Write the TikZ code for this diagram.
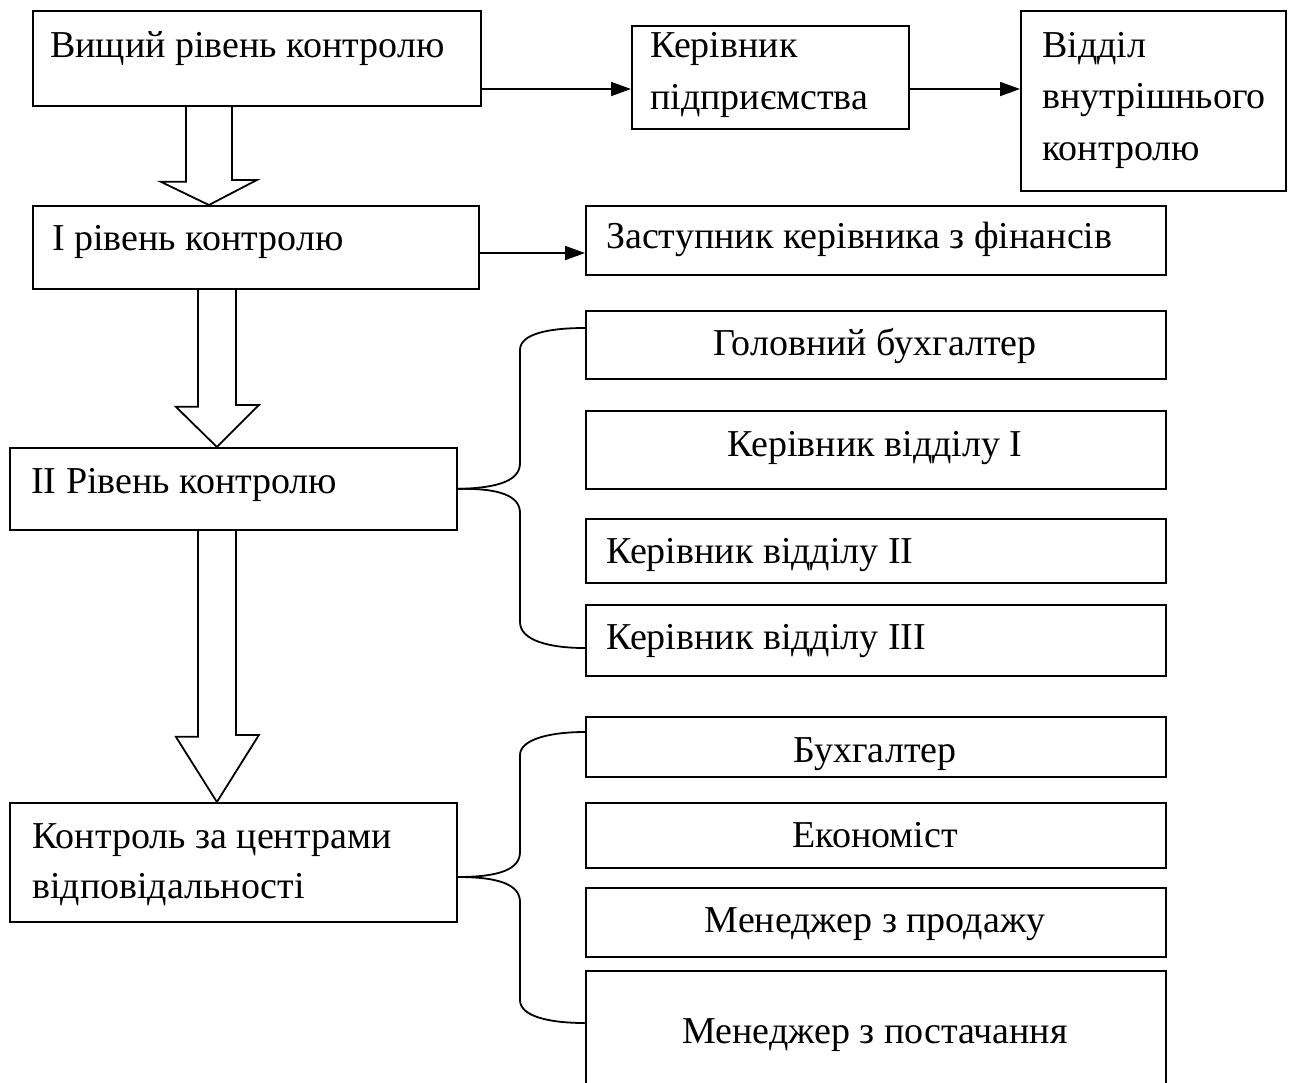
\documentclass[tikz,border=0pt]{standalone}
\usepackage{fontspec}
\setmainfont{Liberation Serif}
\usetikzlibrary{arrows.meta}
\begin{document}
\begin{tikzpicture}[x=1pt,y=-1pt,
  box/.style={draw, line width=1.8pt, inner sep=0pt, anchor=north west},
  txt/.style={inner sep=0pt, font=\fontsize{38}{50}\selectfont, anchor=base west, align=left},
  wtxt/.style={inner sep=0pt, font=\fontsize{38}{51.5}\selectfont, anchor=base west, align=left},
  ctxt/.style={inner sep=0pt, font=\fontsize{38}{50}\selectfont, anchor=base},
  arr/.style={line width=1.8pt, -{Triangle[length=20pt,width=14pt]}},
  hollow/.style={line width=1.8pt, line join=miter},
  brace/.style={line width=1.8pt}]
\useasboundingbox (0,0) rectangle (1298,1082);
\clip (0,0) rectangle (1298,1082);
% boxes
\node[box, minimum width=448pt, minimum height=95pt] (A) at (32,10) {};
\node[box, minimum width=277pt, minimum height=103pt] (B) at (631,25) {};
\node[box, minimum width=265pt, minimum height=180pt] (C) at (1020,10) {};
\node[box, minimum width=446pt, minimum height=83pt] (D) at (32,205) {};
\node[box, minimum width=580pt, minimum height=69pt] (E) at (585,205) {};
\node[box, minimum width=447pt, minimum height=82pt] (F) at (9,447) {};
\node[box, minimum width=580pt, minimum height=68pt] (G1) at (585,310) {};
\node[box, minimum width=580pt, minimum height=78pt] (G2) at (585,410) {};
\node[box, minimum width=580pt, minimum height=64pt] (G3) at (585,518) {};
\node[box, minimum width=580pt, minimum height=71pt] (G4) at (585,604) {};
\node[box, minimum width=447pt, minimum height=119pt] (H) at (9,802) {};
\node[box, minimum width=580pt, minimum height=60pt] (I1) at (585,716) {};
\node[box, minimum width=580pt, minimum height=65pt] (I2) at (585,802) {};
\node[box, minimum width=580pt, minimum height=69pt] (I3) at (585,887) {};
\node[box, minimum width=580pt, minimum height=140pt] (I4) at (585,970) {};
% texts (multi-line nodes are placed at the baseline of their last line)
\node[txt] (tA) at (50,57) {Вищий рівень контролю};
\node[wtxt] (tB) at (650,109) {Керівник\\підприємства};
\node[wtxt] (tC) at (1042,160) {Відділ\\внутрішнього\\контролю};
\node[txt] (tD) at (52,250) {I рівень контролю};
\node[txt] (tE) at (606,248) {Заступник керівника з фінансів};
\node[txt] (tF) at (31,493) {II Рівень контролю};
\node[ctxt] (tG1) at (875,355) {Головний бухгалтер};
\node[ctxt] (tG2) at (875,456) {Керівник відділу I};
\node[txt] (tG3) at (606,563) {Керівник відділу II};
\node[txt] (tG4) at (606,649) {Керівник відділу III};
\node[txt] (tH) at (32,898) {Контроль за центрами\\відповідальності};
\node[ctxt] (tI1) at (875,762) {Бухгалтер};
\node[ctxt] (tI2) at (875,847) {Економіст};
\node[ctxt] (tI3) at (875,932) {Менеджер з продажу};
\node[ctxt] (tI4) at (875,1043) {Менеджер з постачання};
% thin arrows
\coordinate (ab) at (0,89);
\coordinate (de) at (0,253);
\draw[arr] (A.east |- ab) -- (B.west |- ab);
\draw[arr] (B.east |- ab) -- (C.west |- ab);
\draw[arr] (D.east |- de) -- (E.west |- de);
% hollow arrows
\draw[hollow] ([xshift=-71pt]A.south) -- ++(0,75) -- ++(-25,0) -- ([xshift=-47pt]D.north) -- ++(48,-25) -- ++(-25,0) -- ([xshift=-25pt]A.south);
\draw[hollow] ([xshift=-58pt]D.south) -- ++(0,117) -- ++(-22,0) -- ([xshift=-16.5pt]F.north) -- ++(42,-42) -- ++(-23,0) -- ([xshift=-20pt]D.south);
\draw[hollow] ([xshift=-35.5pt]F.south) -- ++(0,206) -- ++(-22,0) -- ([xshift=-16.5pt]H.north) -- ++(42,-67) -- ++(-23,0) -- ([xshift=2.5pt]F.south);
% braces
\draw[brace] (F.east) .. controls (500,488) and (520,480) .. (520,463) -- (520,350) .. controls (520,334) and (548,328) .. ([yshift=-18pt]G1.north west);
\draw[brace] (F.east) .. controls (500,488) and (520,496) .. (520,513) -- (520,622) .. controls (520,640) and (548,648) .. ([yshift=-44pt]G4.north west);
\draw[brace] ([yshift=-75pt]H.north east) .. controls (500,877) and (520,869) .. (520,852) -- (520,755) .. controls (520,740) and (548,732) .. ([yshift=-16pt]I1.north west);
\draw[brace] ([yshift=-75pt]H.north east) .. controls (500,877) and (520,885) .. (520,902) -- (520,1000) .. controls (520,1016) and (548,1023) .. ([yshift=-53pt]I4.north west);
\end{tikzpicture}
\end{document}
